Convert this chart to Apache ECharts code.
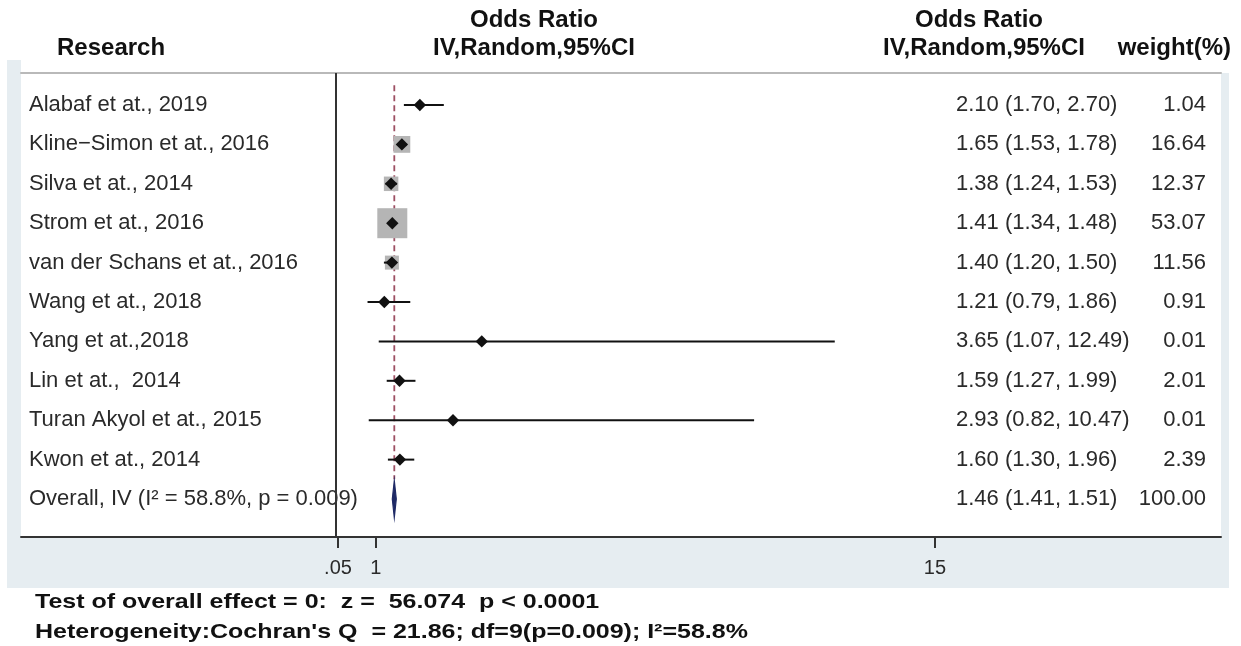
<!DOCTYPE html>
<html>
<head>
<meta charset="utf-8">
<script src="https://cdn.jsdelivr.net/npm/echarts@6.0.0/dist/echarts.min.js"></script>
<style>
html,body{margin:0;padding:0;background:#fff;}
#chart{width:1241px;height:646px;}
</style>
</head>
<body>
<div id="chart"></div>
<script>
// ---------------- data ----------------
const studyNames = [
  'Alabaf et at., 2019',
  'Kline\u2212Simon et at., 2016',
  'Silva et at., 2014',
  'Strom et at., 2016',
  'van der Schans et at., 2016',
  'Wang et at., 2018',
  'Yang et at.,2018',
  'Lin et at.,  2014',
  'Turan Akyol et at., 2015',
  'Kwon et at., 2014'
];
const oddsRatios = [2.10, 1.65, 1.38, 1.41, 1.40, 1.21, 3.65, 1.59, 2.93, 1.60];
const ciLower    = [1.70, 1.53, 1.24, 1.34, 1.20, 0.79, 1.07, 1.27, 0.82, 1.30];
const ciUpper    = [2.70, 1.78, 1.53, 1.48, 1.50, 1.86, 12.49, 1.99, 10.47, 1.96];
const weights    = [1.04, 16.64, 12.37, 53.07, 11.56, 0.91, 0.01, 2.01, 0.01, 2.39];

const overallName = 'Overall, IV (I\u00B2 = 58.8%, p = 0.009)';
const overallOR = [1.46];
const overallLower = [1.41];
const overallUpper = [1.51];
const overallWeight = [100.00];

const xTickValues = [0.05, 1, 15];
const xTickLabels = ['.05', '1', '15'];
const refLineValue = [0];

const headerLeft = ['Odds Ratio', 'IV,Random,95%CI'];
const headerRight = ['Odds Ratio', 'IV,Random,95%CI'];
const footerLines = [
  'Test of overall effect = 0:  z =  56.074  p < 0.0001',
  "Heterogeneity:Cochran's Q  = 21.86; df=9(p=0.009); I\u00B2=58.8%"
];

// ---------------- derived ----------------
const rowLabels = studyNames.concat([overallName]);
const f2 = v => v.toFixed(2);
const estTexts = oddsRatios.map((v, i) => f2(v) + ' (' + f2(ciLower[i]) + ', ' + f2(ciUpper[i]) + ')')
  .concat([f2(overallOR[0]) + ' (' + f2(overallLower[0]) + ', ' + f2(overallUpper[0]) + ')']);
const wtTexts = weights.map(f2).concat([f2(overallWeight[0])]);
const rowIdx = rowLabels.map((_, i) => i);
const maxW = Math.max.apply(null, weights);

const studyData = oddsRatios.map((v, i) => [i, v, ciLower[i], ciUpper[i], weights[i]]);
const overallData = [[studyNames.length, overallOR[0], overallLower[0], overallUpper[0]]];

const FONT = '"Liberation Sans", Arial, sans-serif';
const TXT = '#2a2a2a';

const chart = echarts.init(document.getElementById('chart'), null, {renderer: 'canvas'});

const option = {
  backgroundColor: '#ffffff',
  animation: false,
  textStyle: {fontFamily: FONT},
  grid: {left: 21, right: 20, top: 73, bottom: 109, containLabel: false},
  xAxis: [{
    type: 'value',
    position: 'bottom',
    min: -7.888, max: 22.162,
    splitLine: {show: false},
    axisLine: {show: true, onZero: false, lineStyle: {color: '#333', width: 2}},
    axisTick: {show: true, customValues: xTickValues, length: 11, lineStyle: {color: '#333', width: 2}},
    axisLabel: {
      show: true, customValues: xTickValues, margin: 21,
      fontSize: 20, color: TXT, fontFamily: FONT,
      formatter: v => { const k = xTickValues.indexOf(v); return k >= 0 ? xTickLabels[k] : ''; }
    }
  }, {
    type: 'value',
    position: 'top',
    min: -7.888, max: 22.162,
    splitLine: {show: false},
    axisLine: {show: true, onZero: false, lineStyle: {color: '#b9b9b9', width: 2}},
    axisTick: {show: false},
    axisLabel: {show: false}
  }],
  yAxis: [{
    type: 'value',
    position: 'left',
    inverse: true,
    min: -0.812, max: 10.964,
    splitLine: {show: false},
    axisLine: {show: false},
    axisTick: {show: false},
    axisLabel: {
      show: true, inside: true, align: 'left', margin: 8,
      customValues: rowIdx,
      fontSize: 22, color: TXT, fontFamily: FONT,
      formatter: v => rowLabels[Math.round(v)] || ''
    }
  }, {
    type: 'value',
    position: 'right',
    inverse: true,
    min: -0.812, max: 10.964,
    splitLine: {show: false},
    axisLine: {show: false},
    axisTick: {show: false},
    axisLabel: {
      show: true, inside: true, align: 'right', margin: 15,
      customValues: rowIdx,
      fontSize: 22, color: TXT, fontFamily: FONT,
      formatter: v => { const i = Math.round(v); return '{a|' + estTexts[i] + '}{b|' + wtTexts[i] + '}'; },
      rich: {
        a: {width: 174, align: 'left', fontSize: 22, color: TXT, fontFamily: FONT},
        b: {width: 76, align: 'right', fontSize: 22, color: TXT, fontFamily: FONT}
      }
    }
  }],
  series: [
    {
      // reference (null) line
      type: 'line',
      data: [],
      silent: true,
      markLine: {
        silent: true, symbol: 'none', animation: false,
        label: {show: false},
        lineStyle: {color: '#333', width: 2, type: 'solid'},
        data: [{xAxis: refLineValue[0]}]
      }
    },
    {
      // overall estimate dashed line
      type: 'custom',
      silent: true,
      data: [[overallOR[0]]],
      encode: {x: 0},
      renderItem: (params, api) => {
        const x = api.value(0);
        const p1 = api.coord([x, -0.5]);
        const p2 = api.coord([x, studyNames.length - 0.5]);
        return {
          type: 'line',
          shape: {x1: p1[0], y1: p1[1], x2: p2[0], y2: p2[1]},
          style: {stroke: '#9d4f63', lineWidth: 1.8, lineDash: [6, 4]}
        };
      },
      z: 3
    },
    {
      // studies
      type: 'custom',
      silent: true,
      data: studyData,
      encode: {x: [1, 2, 3], y: 0},
      renderItem: (params, api) => {
        const row = api.value(0);
        const c = api.coord([api.value(1), row]);
        const l = api.coord([api.value(2), row]);
        const h = api.coord([api.value(3), row]);
        const s = 30 * Math.sqrt(api.value(4) / maxW);
        const d = 6.2;
        return {
          type: 'group',
          children: [
            {type: 'rect', shape: {x: c[0] - s / 2, y: c[1] - s / 2, width: s, height: s}, style: {fill: '#b5b5b5'}},
            {type: 'line', shape: {x1: l[0], y1: l[1], x2: h[0], y2: h[1]}, style: {stroke: '#111', lineWidth: 2}},
            {type: 'polygon', shape: {points: [[c[0] - d, c[1]], [c[0], c[1] - d], [c[0] + d, c[1]], [c[0], c[1] + d]]}, style: {fill: '#111'}}
          ]
        };
      },
      z: 4
    },
    {
      // overall diamond
      type: 'custom',
      silent: true,
      data: overallData,
      encode: {x: [1, 2, 3], y: 0},
      renderItem: (params, api) => {
        const row = api.value(0);
        const c = api.coord([api.value(1), row]);
        const l = api.coord([api.value(2), row]);
        const h = api.coord([api.value(3), row]);
        const hh = api.size([0, 1])[1] * 0.47;
        return {
          type: 'polygon',
          shape: {points: [[l[0], c[1]], [c[0], c[1] - hh], [h[0], c[1]], [c[0], c[1] + hh]]},
          style: {fill: '#1f2a66', stroke: '#1f2a66', lineWidth: 1.2}
        };
      },
      z: 4
    }
  ],
  graphic: [
    // background frame
    {type: 'rect', z: -10, silent: true, shape: {x: 7, y: 60, width: 14, height: 528}, style: {fill: '#e6edf1'}},
    {type: 'rect', z: -10, silent: true, shape: {x: 7, y: 537, width: 1222, height: 51}, style: {fill: '#e6edf1'}},
    {type: 'rect', z: -10, silent: true, shape: {x: 1221, y: 73, width: 8, height: 515}, style: {fill: '#e6edf1'}},
    // headers
    {type: 'text', x: 57, y: 48, style: {text: 'Research', font: 'bold 24px ' + FONT, fill: '#111', textAlign: 'left', textVerticalAlign: 'middle'}},
    {type: 'text', x: 534, y: 20, style: {text: headerLeft[0], font: 'bold 24px ' + FONT, fill: '#111', textAlign: 'center', textVerticalAlign: 'middle'}},
    {type: 'text', x: 534, y: 48, style: {text: headerLeft[1], font: 'bold 24px ' + FONT, fill: '#111', textAlign: 'center', textVerticalAlign: 'middle'}},
    {type: 'text', x: 979, y: 20, style: {text: headerRight[0], font: 'bold 24px ' + FONT, fill: '#111', textAlign: 'center', textVerticalAlign: 'middle'}},
    {type: 'text', x: 984, y: 48, style: {text: headerRight[1], font: 'bold 24px ' + FONT, fill: '#111', textAlign: 'center', textVerticalAlign: 'middle'}},
    {type: 'text', x: 1231, y: 48, style: {text: 'weight(%)', font: 'bold 24px ' + FONT, fill: '#111', textAlign: 'right', textVerticalAlign: 'middle'}},
    // footer
    {type: 'text', x: 35, y: 602, scaleX: 1.19, style: {text: footerLines[0], font: 'bold 21px ' + FONT, fill: '#111', textAlign: 'left', textVerticalAlign: 'middle'}},
    {type: 'text', x: 35, y: 632, scaleX: 1.19, style: {text: footerLines[1], font: 'bold 21px ' + FONT, fill: '#111', textAlign: 'left', textVerticalAlign: 'middle'}}
  ]
};

chart.setOption(option);
</script>
</body>
</html>
